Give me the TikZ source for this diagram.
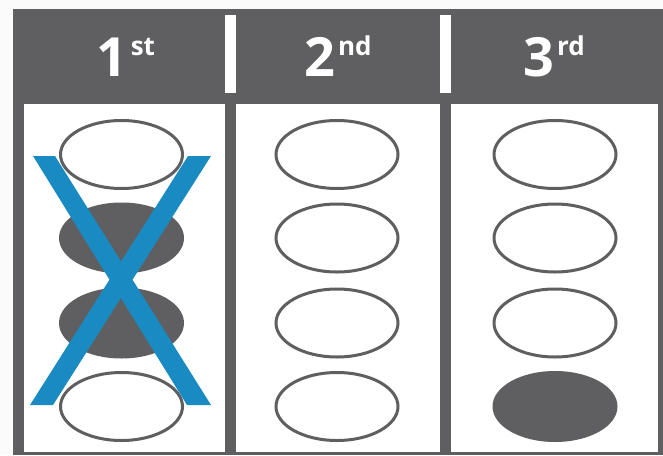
\documentclass[tikz,border=0pt]{standalone}
\usepackage{fontspec}
\setmainfont{Open Sans}
\usetikzlibrary{shapes.geometric}
\definecolor{slate}{HTML}{5F5F61}
\definecolor{xblue}{HTML}{1A8AC2}
\definecolor{paper}{HTML}{FBFBFB}
\newcommand{\rankname}[2]{{\fontsize{54}{54}\selectfont #1}\hspace{3pt}\raisebox{21pt}{\fontsize{26}{26}\selectfont #2}}

\begin{document}
\begin{tikzpicture}[x=1pt, y=-1pt,
  ring/.style={ellipse, draw=slate, line width=3pt, minimum width=122pt, minimum height=68pt, inner sep=0pt},
  dot/.style={ring, fill=slate},
  rank/.style={text=white, font=\bfseries, anchor=base, inner sep=0pt}]

% Frame
\useasboundingbox (0,0) rectangle (663,455);
\fill[paper] (0,0) rectangle (663,455);
\fill[slate] (13,9) rectangle (663,455);

% Header separators (white)
\fill[white] (225,15) rectangle (236,93);
\fill[white] (440,15) rectangle (451,93);

% Panels (white)
\fill[white] (24,104) rectangle (225,452);
\fill[white] (236,104) rectangle (440,452);
\fill[white] (451,104) rectangle (658,452);

% Headers
\node[rank] (h1) at (126,76) {\rankname{1}{st}};
\node[rank] (h2) at (338,76) {\rankname{2}{nd}};
\node[rank] (h3) at (554,76) {\rankname{3}{rd}};

% 1st choice
\node[ring] (a1) at (121.5,154.5) {};
\node[dot]  (a2) at (121.5,238) {};
\node[dot]  (a3) at (121.5,323) {};
\node[ring] (a4) at (121.5,406.5) {};

% Cross over the 1st choice (blue)
\fill[xblue] (33,156) -- (55,156) -- (211,405) -- (187,405) -- cycle;
\fill[xblue] (188,156) -- (211,156) -- (53,405) -- (30,405) -- cycle;

% 2nd choice
\node[ring] (b1) at (337,154.5) {};
\node[ring] (b2) at (337,238) {};
\node[ring] (b3) at (337,323) {};
\node[ring] (b4) at (337,406.5) {};

% 3rd choice
\node[ring] (c1) at (555,154.5) {};
\node[ring] (c2) at (555,238) {};
\node[ring] (c3) at (555,323) {};
\node[dot]  (c4) at (555,406.5) {};

\end{tikzpicture}
\end{document}
